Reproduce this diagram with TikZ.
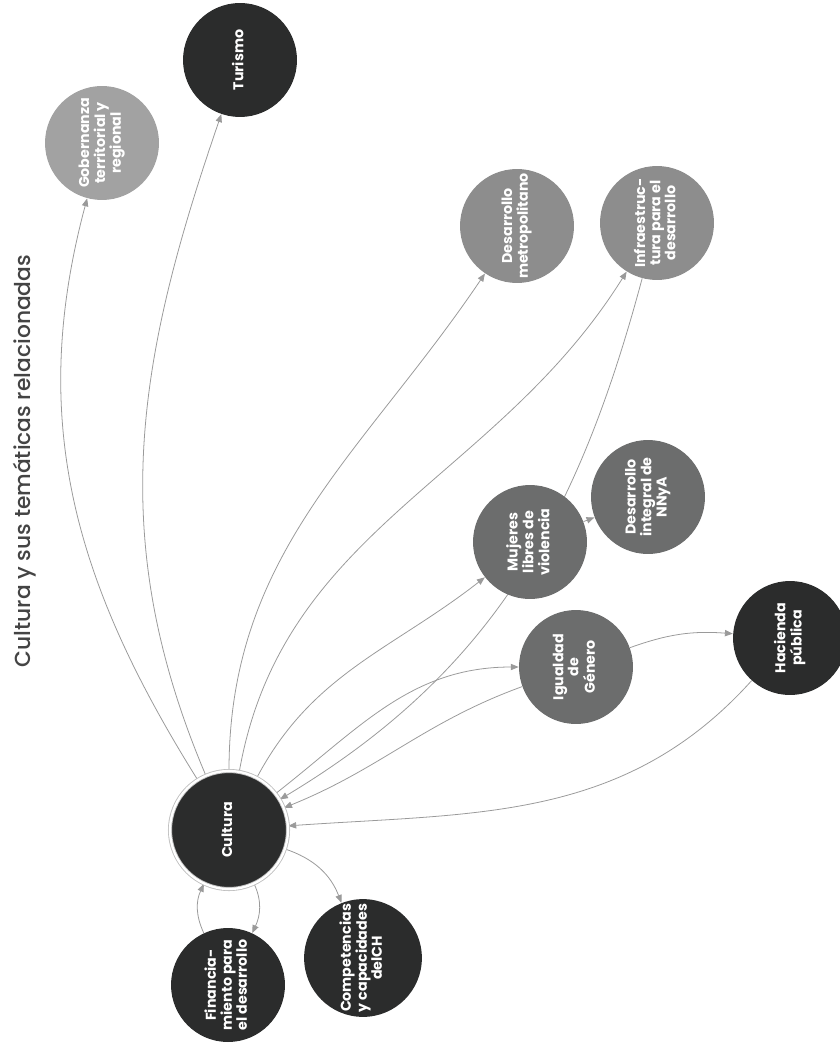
\documentclass[tikz,border=0pt]{standalone}
\usepackage{fontspec}
\setmainfont{Poppins}
\newfontfamily\titlefont{Poppins Medium}
\usepackage{graphicx}
\usetikzlibrary{arrows.meta,backgrounds}
\definecolor{darknode}{HTML}{2B2C2C}
\definecolor{midnode}{HTML}{6C6D6D}
\definecolor{lightnode}{HTML}{8D8D8D}
\definecolor{palenode}{HTML}{A2A2A2}
\definecolor{linkgrey}{HTML}{9A9A9A}
\definecolor{titlegrey}{HTML}{444444}
\newcommand{\uplabel}[1]{\rotatebox{90}{\begin{tabular}{@{}c@{}}#1\end{tabular}}}

\begin{document}
\begin{tikzpicture}[x=0.02cm, y=0.02cm,
  topic/.style={circle, minimum size=2.28cm, inner sep=0pt, text=white, font=\fontsize{8.1}{8.6}\selectfont\bfseries},
  link/.style={draw=linkgrey, line width=0.45pt, -{Triangle[length=4.5pt,width=3.6pt]}}]
\useasboundingbox (0,0) rectangle (839,-1044);

% Title
\node[rotate=90, text=titlegrey, font=\fontsize{12.4}{14}\titlefont] (ttl) at (25,-461) {Cultura y sus temáticas relacionadas};

% Central node
\node[topic, fill=darknode, draw=lightgray, double=white, double distance=1.3pt, line width=0.5pt, minimum size=2.36cm] (cul) at (229,-830) {\uplabel{Cultura}};

% Related topics
\node[topic, fill=palenode] (gob) at (102,-143) {\uplabel{Gobernanza\\territorial y\\regional}};
\node[topic, fill=darknode] (tur) at (240,-60) {\uplabel{Turismo}};
\node[topic, fill=lightnode] (dmet) at (517,-226) {\uplabel{Desarrollo\\metropolitano}};
\node[topic, fill=lightnode] (infra) at (657,-223) {\uplabel{Infraestruc-\\tura para el\\desarrollo}};
\node[topic, fill=midnode] (muj) at (530,-542) {\uplabel{Mujeres\\libres de\\violencia}};
\node[topic, fill=midnode] (nnya) at (648,-497) {\uplabel{Desarrollo\\integral de\\NNyA}};
\node[topic, fill=midnode] (igu) at (576,-667) {\uplabel{Igualdad\\de\\Género}};
\node[topic, fill=darknode] (hac) at (790,-638) {\uplabel{Hacienda\\pública}};
\node[topic, fill=darknode] (fin) at (228,-985) {\uplabel{Financia-\\miento para\\el desarrollo}};
\node[topic, fill=darknode] (comp) at (363,-958) {\uplabel{Competencias\\y capacidades\\delCH}};

\begin{scope}[on background layer]
% from Cultura outwards
\draw[link] (cul) to[out=122, in=-105] (gob);
\draw[link] (cul) to[out=113, in=-109] (tur);
\draw[link] (cul) to[out=90, in=-124] (dmet);
\draw[link] (cul) to[out=80, in=-122] (infra);
\draw[link] (cul) to[out=62, in=-142] (muj);
\draw[link] (cul) to[out=38, in=180] (igu);
\draw[link] (cul) to[bend left=25] (comp);
\draw[link] (cul) to[out=-65, in=65] (fin);
% back into Cultura
\draw[link] (fin) to[out=115, in=-115] (cul);
\draw[link] (infra) to[out=-105, in=31] (cul);
\draw[link] (igu) to[out=200, in=22] (cul);
\draw[link] (hac) to[out=-132, in=4] (cul);
% between topics
\draw[link] (igu) to[bend left=12] (hac);
\draw[link] (muj) -- (nnya);
\end{scope}
\end{tikzpicture}
\end{document}
